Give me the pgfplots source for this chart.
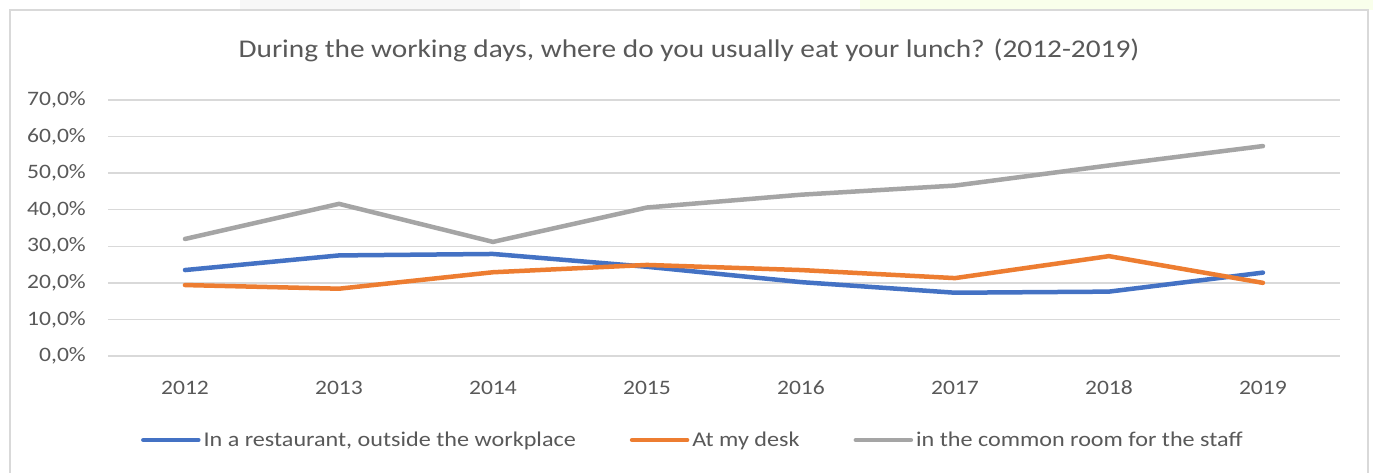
\documentclass[border=0pt]{standalone}
\usepackage{pgfplots}
\pgfplotsset{compat=1.18}
\usepackage{fontspec}
\setmainfont{Carlito}[FakeStretch=1.15]
\definecolor{sblue}{HTML}{4472C4}
\definecolor{sorange}{HTML}{ED7D31}
\definecolor{sgray}{HTML}{A5A5A5}
\definecolor{gridc}{HTML}{D9D9D9}
\definecolor{txt}{HTML}{595959}
\begin{document}
\begin{tikzpicture}[x=1pt,y=1pt]
\fill[white] (0,0) rectangle (1373,471);
\fill[green!30!yellow!8] (860,461) rectangle (1373,471);
\fill[black!3] (240,461) rectangle (520,471);
\draw[gridc, line width=1.5pt] (10,-2) -- (10,461) -- (1368,461) -- (1368,-2);
\node[txt, font=\fontsize{25.5}{30}\selectfont] at (689,421) {During the working days, where do you usually eat your lunch? (2012-2019)};
\begin{axis}[
  at={(108pt,115pt)}, anchor=south west,
  scale only axis, width=1232pt, height=256pt,
  xmin=2011.5, xmax=2019.5, ymin=0, ymax=70,
  axis line style={draw=none},
  ymajorgrids, grid style={gridc, line width=1.5pt},
  major tick length=0pt,
  xtick={2012,2013,2014,2015,2016,2017,2018,2019},
  xticklabels={2012,2013,2014,2015,2016,2017,2018,2019},
  ytick={0,10,20,30,40,50,60,70},
  yticklabels={{0,0\%},{10,0\%},{20,0\%},{30,0\%},{40,0\%},{50,0\%},{60,0\%},{70,0\%}},
  tick label style={txt, font=\fontsize{20.5}{24}\selectfont, inner sep=0pt},
  yticklabel style={anchor=east, xshift=-22pt},
  xticklabel style={anchor=base, yshift=-39pt},
  legend columns=3,
  legend style={at={(0.4748,-0.328)}, anchor=center, draw=none, fill=none,
    font=\fontsize{21}{24}\selectfont, text=txt,
    /tikz/every even column/.append style={column sep=52pt},
    /tikz/every odd column/.append style={column sep=1pt}},
  legend image code/.code={\draw[#1, line cap=round] (0pt,0pt) -- (55pt,0pt);},
  every axis plot/.append style={line width=4.5pt, line cap=round, line join=round},
]
\addplot[sblue] coordinates {(2012,23.5) (2013,27.5) (2014,27.9) (2015,24.4) (2016,20.2) (2017,17.3) (2018,17.6) (2019,22.8)};
\addlegendentry{In a restaurant, outside the workplace}
\addplot[sorange] coordinates {(2012,19.4) (2013,18.4) (2014,22.9) (2015,24.9) (2016,23.5) (2017,21.3) (2018,27.3) (2019,20.0)};
\addlegendentry{At my desk}
\addplot[sgray] coordinates {(2012,32.0) (2013,41.6) (2014,31.2) (2015,40.6) (2016,44.1) (2017,46.6) (2018,52.1) (2019,57.4)};
\addlegendentry{in the common room for the staff}
\end{axis}
\end{tikzpicture}
\end{document}
